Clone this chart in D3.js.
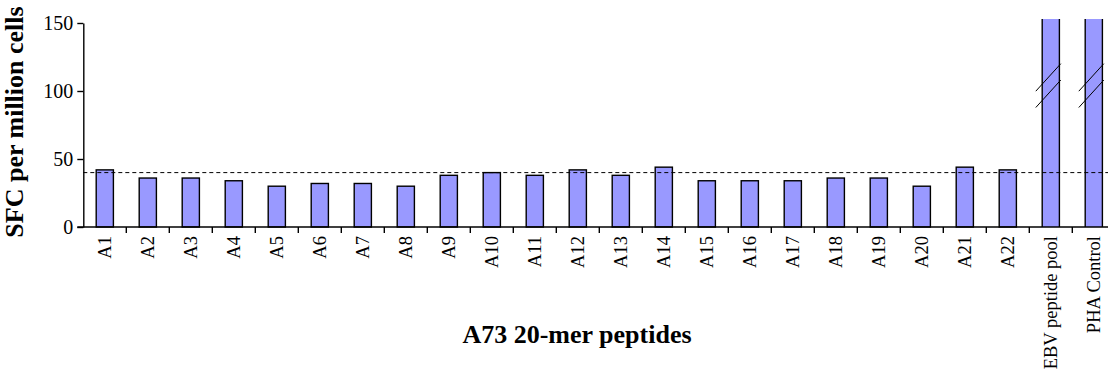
<!DOCTYPE html>
<html>
<head>
<meta charset="utf-8">
<script src="https://cdn.jsdelivr.net/npm/d3@7/dist/d3.min.js"></script>
<style>
    body { margin: 0; background: #fff; }
    svg { display: block; }
</style>
</head>
<body>
<svg id="chart" width="1108" height="380"></svg>
<script>
// peptide categories and SFC values
var categories = ["A1", "A2", "A3", "A4", "A5", "A6", "A7", "A8", "A9", "A10", "A11",
    "A12", "A13", "A14", "A15", "A16", "A17", "A18", "A19", "A20", "A21", "A22",
    "EBV peptide pool", "PHA Control"];
var sfcValues = [42, 36, 36, 34, 30, 32, 32, 30, 38, 40, 38,
    42, 38, 44, 34, 34, 34, 36, 36, 30, 44, 42,
    400, 800]; // last two run off the scale (broken bars)
var yTicks = [0, 50, 100, 150];
var thresholdValue = 40;     // dashed cut-off line
var breakLevels = [112, 100]; // where the break marks cross the broken bars

var svg = d3.select("#chart");

var plotLeft = 83.3, step = 43, plotBottom = 227, plotTop = 23, clipTop = 19;

var x = d3.scaleBand()
    .domain(categories)
    .range([plotLeft, plotLeft + step * categories.length])
    .paddingInner(0.6)
    .paddingOuter(0.3);

var y = d3.scaleLinear()
    .domain([0, 150])
    .range([plotBottom, plotTop]);

var gap = (x.step() - x.bandwidth()) / 2;

var data = categories.map(function (c, i) {
    return { name: c, value: sfcValues[i] };
});

// bars
var bars = svg.append("g");
bars.selectAll("rect")
    .data(data)
    .enter()
    .append("rect")
    .attr("x", function (d) { return x(d.name); })
    .attr("y", function (d) { return Math.max(y(d.value), clipTop); })
    .attr("width", x.bandwidth())
    .attr("height", function (d) { return plotBottom - Math.max(y(d.value), clipTop); })
    .attr("fill", "#9999ff")
    .attr("stroke", function (d) { return y(d.value) < clipTop ? "none" : "#000"; })
    .attr("stroke-width", 1.4);

// broken bars: only side edges, plus break marks
var broken = data.filter(function (d) { return y(d.value) < clipTop; });
broken.forEach(function (d) {
    var x0 = x(d.name), x1 = x0 + x.bandwidth(), cx = x0 + x.bandwidth() / 2;
    [x0, x1].forEach(function (xe) {
        bars.append("line")
            .attr("x1", xe).attr("x2", xe)
            .attr("y1", clipTop).attr("y2", plotBottom)
            .attr("stroke", "#000")
            .attr("stroke-width", 1.4);
    });
    breakLevels.forEach(function (v) {
        var yc = y(v);
        bars.append("line")
            .attr("x1", cx - 15).attr("y1", yc + 16.5)
            .attr("x2", cx + 10).attr("y2", yc - 11)
            .attr("stroke", "#000")
            .attr("stroke-width", 1);
    });
});

// threshold line
svg.append("line")
    .attr("x1", plotLeft)
    .attr("x2", 1108)
    .attr("y1", y(thresholdValue))
    .attr("y2", y(thresholdValue))
    .attr("stroke", "#000")
    .attr("stroke-width", 1)
    .attr("stroke-dasharray", "4,3");

// y axis
var yAxis = svg.append("g")
    .attr("transform", "translate(" + plotLeft + ",0)")
    .call(d3.axisLeft(y).tickValues(yTicks).tickSize(6).tickSizeOuter(0).tickPadding(4));
yAxis.select(".domain").attr("stroke", "#000").attr("stroke-width", 1.4);
yAxis.selectAll(".tick line").attr("stroke", "#000").attr("stroke-width", 1.4);
yAxis.selectAll(".tick text")
    .attr("font-family", "'Liberation Serif', 'Times New Roman', serif")
    .attr("font-size", "20px")
    .attr("fill", "#000");

// x axis line and boundary ticks
svg.append("line")
    .attr("x1", plotLeft - 6)
    .attr("x2", 1108)
    .attr("y1", plotBottom)
    .attr("y2", plotBottom)
    .attr("stroke", "#000")
    .attr("stroke-width", 1.4);

svg.append("g").selectAll("line")
    .data(categories.slice(1))
    .enter()
    .append("line")
    .attr("x1", function (d) { return x(d) - gap; })
    .attr("x2", function (d) { return x(d) - gap; })
    .attr("y1", plotBottom)
    .attr("y2", plotBottom + 6)
    .attr("stroke", "#000")
    .attr("stroke-width", 1.4);

// rotated category labels
svg.append("g").selectAll("text")
    .data(categories)
    .enter()
    .append("text")
    .attr("transform", function (d) {
        return "translate(" + (x(d) + x.bandwidth() / 2) + "," + (plotBottom + 9) + ") rotate(-90)";
    })
    .attr("text-anchor", "end")
    .attr("dy", "0.35em")
    .attr("font-family", "'Liberation Serif', 'Times New Roman', serif")
    .attr("font-size", "18.5px")
    .attr("fill", "#000")
    .text(function (d) { return d; });

// titles
svg.append("text")
    .attr("x", 577)
    .attr("y", 343)
    .attr("text-anchor", "middle")
    .attr("font-family", "'Liberation Serif', 'Times New Roman', serif")
    .attr("font-weight", "bold")
    .attr("font-size", "26px")
    .text("A73 20-mer peptides");

svg.append("text")
    .attr("transform", "translate(23,122) rotate(-90)")
    .attr("text-anchor", "middle")
    .attr("font-family", "'Liberation Serif', 'Times New Roman', serif")
    .attr("font-weight", "bold")
    .attr("font-size", "26px")
    .text("SFC per million cells");
</script>
</body>
</html>
